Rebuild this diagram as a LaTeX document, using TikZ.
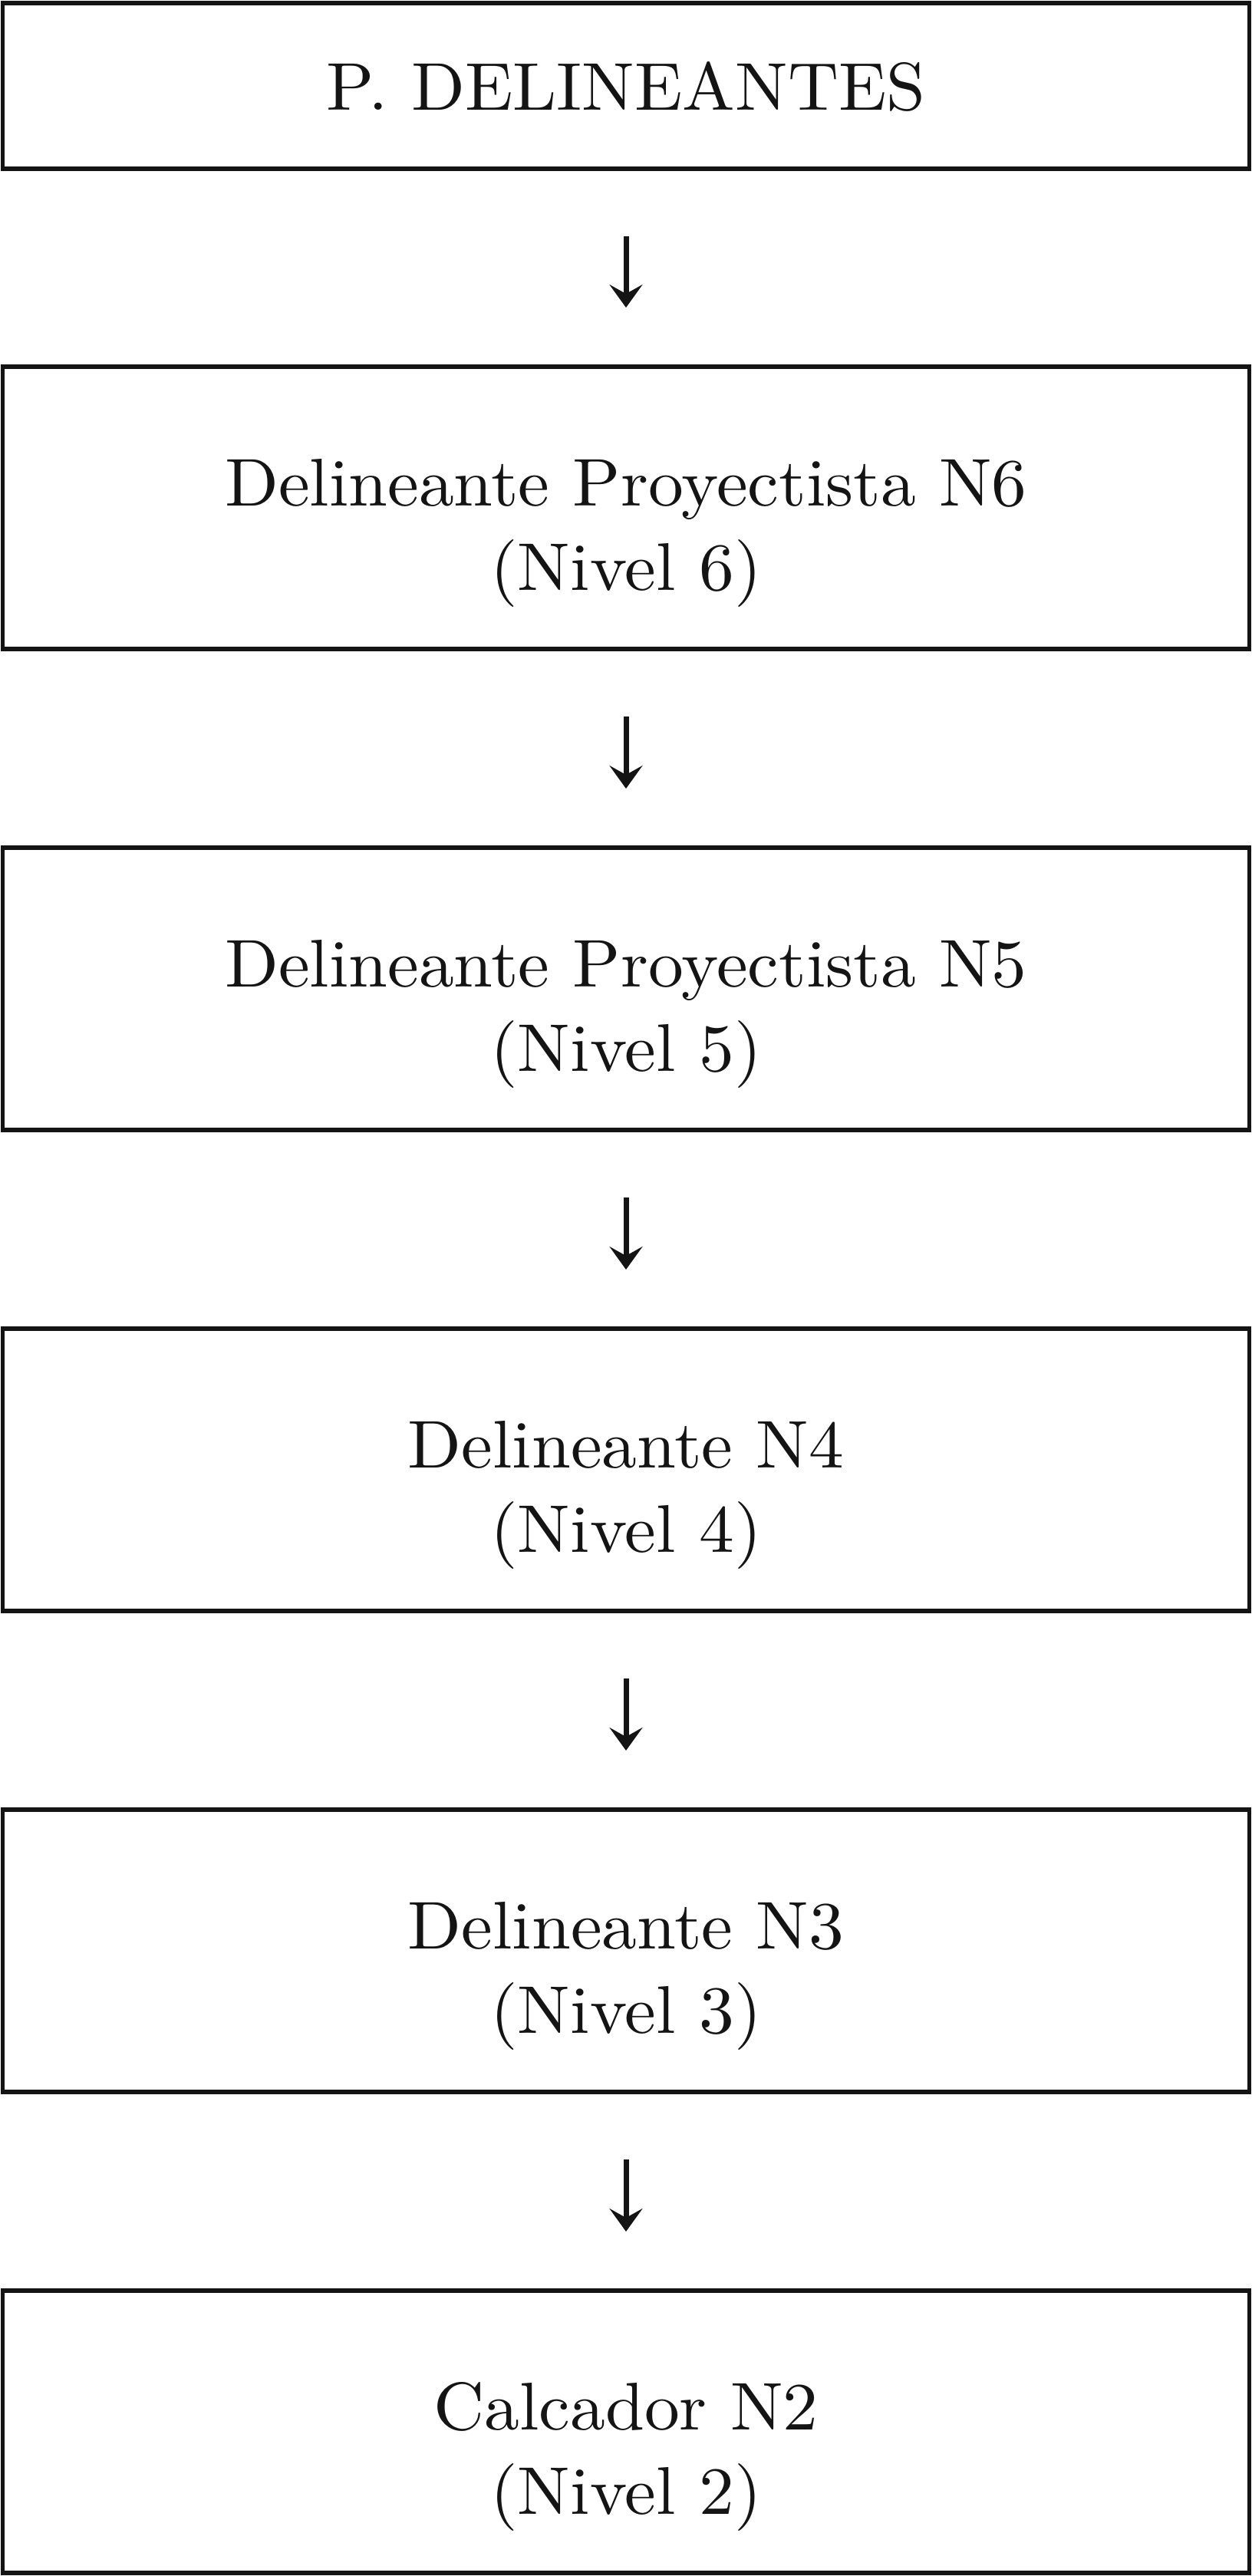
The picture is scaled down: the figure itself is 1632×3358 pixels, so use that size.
\documentclass[tikz,border=0pt]{standalone}
\usepackage{fontspec}
\setmainfont{lmroman10-regular}[Extension=.otf, FakeStretch=1.04]
\usetikzlibrary{arrows.meta}
\definecolor{ink}{RGB}{20,20,20}
\tikzset{
  boxnode/.style={draw=ink, line width=2.75pt, inner sep=0pt, outer sep=0pt,
    minimum width=812.5pt, minimum height=184pt},
  topbox/.style={boxnode, minimum height=108pt},
  label/.style={anchor=base, inner sep=0pt, text=ink, font=\fontsize{44}{55}\selectfont},
  flow/.style={draw=ink, line width=3.5pt,
    -{Stealth[length=15pt, width=21.5pt, inset=6pt]},
    shorten <=44pt, shorten >=38.5pt}
}
\begin{document}
\begin{tikzpicture}[x=0.5pt, y=-0.5pt]
\useasboundingbox (0,0) rectangle (1632,3358);
\node[topbox] (b1) at (816,112) {};
\node[boxnode] (b2) at (816,662) {};
\node[boxnode] (b3) at (816,1289) {};
\node[boxnode] (b4) at (816,1916) {};
\node[boxnode] (b5) at (816,2543) {};
\node[boxnode] (b6) at (816,3170) {};
\node[label] (t1) at (816,143) {P. DELINEANTES};
\node[label] (t2a) at (816,659) {Delineante Proyectista N6};
\node[label] (t2b) at (816,769) {(Nivel 6)};
\node[label] (t3a) at (816,1286) {Delineante Proyectista N5};
\node[label] (t3b) at (816,1396) {(Nivel 5)};
\node[label] (t4a) at (816,1913) {Delineante N4};
\node[label] (t4b) at (816,2023) {(Nivel 4)};
\node[label] (t5a) at (816,2540) {Delineante N3};
\node[label] (t5b) at (816,2650) {(Nivel 3)};
\node[label] (t6a) at (816,3167) {Calcador N2};
\node[label] (t6b) at (816,3277) {(Nivel 2)};
\draw[flow] (b1.south) -- (b2.north);
\draw[flow] (b2.south) -- (b3.north);
\draw[flow] (b3.south) -- (b4.north);
\draw[flow] (b4.south) -- (b5.north);
\draw[flow] (b5.south) -- (b6.north);
\end{tikzpicture}
\end{document}
